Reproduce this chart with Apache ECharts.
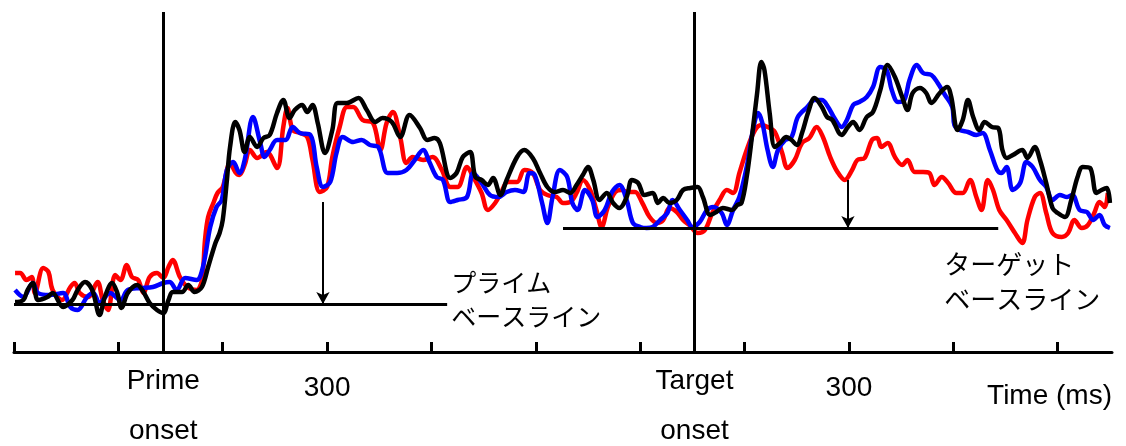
<!DOCTYPE html>
<html>
<head>
<meta charset="utf-8">
<title>Prime / Target baseline</title>
<script src="https://cdn.jsdelivr.net/npm/echarts@6/dist/echarts.min.js"></script>
<style>
  html, body { margin: 0; padding: 0; background: #fff; }
  #my_chart { width: 1126px; height: 446px; }
</style>
</head>
<body>
<div id="my_chart"></div>
<script>
  // time (ms) , amplitude pairs
  var redTrace = [
    [1,79],[6,79],[12,72],[17,75],[20,59],[28,84],[33,80],[37,62],[46,52],[54,65],[58,69],[63,59],[71,55],[80,70],
    [85,52],[90,42],[97,77],[102,72],[108,87],[113,75],[119,72],[124,59],[130,75],[137,79],[143,74],[148,85],[152,92],
    [159,75],[166,65],[175,62],[180,72],[183,112],[186,135],[191,149],[195,159],[200,165],[207,189],[212,180],[216,177],
    [221,187],[226,202],[233,194],[242,200],[252,184],[258,225],[262,244],[267,222],[274,219],[281,215],[286,192],
    [293,160],[300,165],[305,195],[312,225],[319,245],[325,245],[334,232],[344,229],[351,202],[357,229],[363,240],
    [370,215],[376,189],[382,195],[392,192],[401,195],[410,182],[418,165],[425,165],[434,185],[440,175],[448,159],
    [454,142],[461,149],[467,160],[473,170],[482,170],[489,182],[497,179],[504,162],[511,157],[520,155],[526,149],
    [533,150],[539,159],[545,172],[552,162],[558,142],[563,125],[569,145],[576,160],[582,162],[588,160],[595,160],
    [602,149],[609,135],[616,129],[622,132],[628,144],[635,140],[641,132],[648,126],[655,119],[662,122],[669,139],
    [676,152],[683,162],[689,159],[695,179],[702,202],[710,222],[716,227],[722,225],[729,220],[736,199],[741,184],
    [748,192],[755,209],[762,214],[769,225],[775,215],[782,195],[789,180],[796,172],[803,182],[808,192],[815,194],
    [822,212],[827,214],[831,205],[837,209],[844,195],[851,187],[856,192],[863,180],[871,180],[877,179],[882,167],
    [889,175],[895,169],[903,159],[909,159],[916,172],[922,155],[927,142],[933,172],[938,162],[944,142],[951,132],
    [959,119],[966,109],[971,132],[978,155],[983,159],[989,139],[995,119],[1004,115],[1010,119],[1016,132],[1023,124],
    [1029,127],[1035,139],[1040,150],[1045,145],[1048,159]
  ];
  var blueTrace = [
    [1,62],[9,55],[18,69],[23,59],[34,57],[47,59],[54,45],[61,42],[70,55],[76,59],[82,49],[92,59],[102,52],[109,62],
    [121,64],[133,65],[143,69],[149,70],[156,62],[164,74],[175,72],[181,85],[188,125],[194,145],[199,152],[204,182],
    [210,190],[216,179],[221,192],[229,235],[236,209],[240,195],[245,202],[252,212],[260,212],[267,225],[274,219],
    [284,217],[290,185],[296,165],[303,170],[309,199],[315,215],[325,210],[333,212],[341,207],[349,205],[358,179],
    [367,179],[376,182],[384,192],[392,202],[398,190],[405,175],[411,172],[418,150],[425,152],[434,155],[440,179],
    [448,169],[456,157],[464,155],[472,160],[480,162],[488,160],[494,179],[499,177],[506,149],[511,129],[516,155],
    [523,182],[530,175],[535,149],[540,142],[547,162],[554,152],[559,135],[566,142],[573,160],[580,167],[587,152],
    [593,129],[600,125],[606,124],[612,125],[619,132],[626,139],[631,152],[638,142],[645,132],[650,125],[657,130],
    [664,142],[670,145],[678,139],[683,127],[689,142],[695,155],[702,185],[708,222],[713,239],[717,229],[722,202],
    [727,185],[732,202],[739,212],[745,215],[751,235],[760,245],[767,252],[774,252],[780,245],[786,234],[793,225],
    [798,232],[804,247],[810,250],[817,255],[823,265],[830,285],[836,282],[841,262],[847,250],[853,252],[858,272],
    [865,287],[871,279],[879,277],[885,269],[892,257],[899,245],[901,227],[906,222],[914,220],[922,217],[928,219],
    [935,202],[942,182],[946,179],[951,185],[957,162],[964,169],[970,190],[976,185],[983,172],[989,165],[995,152],
    [1002,157],[1009,155],[1014,157],[1021,142],[1028,140],[1034,132],[1040,137],[1045,127],[1050,124]
  ];
  var blackTrace = [
    [1,50],[9,52],[13,62],[18,69],[23,52],[32,55],[37,59],[47,45],[56,52],[61,62],[68,70],[75,62],[82,37],[87,55],
    [94,69],[99,59],[103,44],[109,59],[118,67],[124,60],[130,49],[137,42],[143,39],[148,52],[152,60],[161,60],[167,67],
    [173,60],[180,65],[186,85],[193,109],[197,119],[200,132],[204,172],[207,205],[212,230],[216,222],[221,200],
    [226,215],[233,205],[239,214],[245,217],[252,239],[258,252],[264,234],[269,242],[276,247],[281,240],[286,247],
    [291,229],[298,199],[305,222],[310,249],[319,249],[330,254],[338,242],[346,230],[353,234],[362,230],[370,215],
    [379,237],[389,224],[396,212],[403,214],[408,209],[418,174],[424,179],[430,195],[437,200],[442,175],[448,172],
    [454,167],[459,174],[466,157],[472,172],[482,195],[489,202],[497,194],[504,179],[511,165],[518,160],[526,162],
    [533,159],[539,167],[545,177],[550,185],[555,172],[561,152],[568,159],[574,149],[580,144],[587,155],[592,172],
    [598,169],[604,157],[612,159],[617,149],[622,154],[628,149],[635,152],[641,162],[648,164],[655,165],[660,155],
    [667,137],[673,140],[679,144],[688,142],[693,147],[697,149],[702,175],[707,215],[712,259],[716,290],[719,282],
    [724,239],[729,205],[734,209],[740,215],[745,212],[750,207],[755,219],[761,240],[767,254],[774,245],[779,235],
    [784,232],[793,217],[799,225],[804,230],[810,222],[817,235],[823,240],[830,262],[837,287],[844,275],[851,255],
    [856,242],[861,259],[868,264],[874,259],[879,249],[887,259],[894,265],[898,255],[904,222],[909,232],[914,252],
    [919,235],[925,222],[930,230],[937,225],[943,224],[947,202],[951,194],[957,197],[966,202],[971,194],[978,205],
    [983,192],[989,169],[995,144],[1000,139],[1007,135],[1013,152],[1019,175],[1024,185],[1031,184],[1037,159],
    [1042,162],[1047,164],[1050,149]
  ];

  var tickStep = 100, tickLast = 1000;      // ticks every 100 ms, 0..1000
  var labelValues = [300, 800];             // ticks that carry a number
  var labelText = '300';                    // both read "300" (ms after each onset)
  var timeMax = 1052;                       // axis line runs a bit past the last tick
  var primeOnset = 143, targetOnset = 652;
  var primeBase = { from: 0, to: 415, level: 48 };
  var targetBase = { from: 526, to: 943, level: 124 };
  var primeArrow = { t: 296, top: 150 };
  var targetArrow = { t: 799, top: 172 };

  var latin = 'Liberation Sans, Arial, sans-serif';
  var cjk = '"Noto Sans CJK JP", sans-serif';

  var my_chart = echarts.init(document.getElementById('my_chart'));

  var solid = { color: '#000', width: 3, type: 'solid' };
  var thin = { color: '#000', width: 2, type: 'solid' };
  var onsetLabel = {
    show: true, position: 'start', distance: 4,
    fontFamily: latin, fontSize: 28, color: '#000', lineHeight: 50
  };

  // plot width for 0..timeMax is 1098px, so the tick axis (0..tickLast) ends earlier
  var plotW = 1126 - 14 - 14;
  var tickRight = 14 + plotW * (1 - tickLast / timeMax);

  my_chart.setOption({
    animation: false,
    grid: [
      { left: 14, right: 14, top: 12, bottom: 94 },
      { left: 14, right: tickRight, top: 12, bottom: 94 }
    ],
    xAxis: [{
      type: 'value', min: 0, max: timeMax, show: false
    }, {
      gridIndex: 1, type: 'value', min: 0, max: tickLast, interval: tickStep,
      axisLine: { show: false },
      axisTick: { inside: true, length: 10, lineStyle: { color: '#000', width: 3 } },
      axisLabel: {
        margin: 22, color: '#000', fontFamily: latin, fontSize: 28,
        formatter: function (v) { return labelValues.indexOf(v) >= 0 ? labelText : ''; }
      },
      splitLine: { show: false }
    }],
    yAxis: [
      { type: 'value', min: 0, max: 340, show: false },
      { gridIndex: 1, type: 'value', min: 0, max: 340, show: false }
    ],
    graphic: [{
      type: 'text', right: 14, top: 382,
      style: { text: 'Time (ms)', font: '28px ' + latin, fill: '#000' }
    }],
    series: [{
      name: 'red', type: 'line', data: redTrace, showSymbol: false, smooth: 0.35,
      lineStyle: { color: '#ff0000', width: 4.5 }, itemStyle: { color: '#ff0000' }
    }, {
      name: 'blue', type: 'line', data: blueTrace, showSymbol: false, smooth: 0.35,
      lineStyle: { color: '#0000ff', width: 4.5 }, itemStyle: { color: '#0000ff' }
    }, {
      name: 'black', type: 'line', data: blackTrace, showSymbol: false, smooth: 0.35, clip: false,
      lineStyle: { color: '#000', width: 4.5 }, itemStyle: { color: '#000' },
      markLine: {
        silent: true, symbol: ['none', 'none'], animation: false,
        label: { show: false },
        data: [
          // time axis line
          [{ coord: [0, 0], lineStyle: { color: '#000', width: 3, type: 'solid', cap: 'round' } }, { coord: [timeMax, 0] }],
          { xAxis: primeOnset, lineStyle: solid, label: Object.assign({ formatter: 'Prime\nonset' }, onsetLabel) },
          { xAxis: targetOnset, lineStyle: solid, label: Object.assign({ formatter: 'Target\nonset' }, onsetLabel) },
          [{ coord: [primeBase.from, primeBase.level], lineStyle: solid }, { coord: [primeBase.to, primeBase.level] }],
          [{ coord: [targetBase.from, targetBase.level], lineStyle: solid }, { coord: [targetBase.to, targetBase.level] }],
          [{ coord: [primeArrow.t, primeArrow.top], lineStyle: thin, symbol: 'none' },
           { coord: [primeArrow.t, primeBase.level], symbol: 'arrow', symbolSize: [10, 12] }],
          [{ coord: [targetArrow.t, targetArrow.top], lineStyle: thin, symbol: 'none' },
           { coord: [targetArrow.t, targetBase.level], symbol: 'arrow', symbolSize: [10, 12] }]
        ]
      },
      markPoint: {
        silent: true, symbol: 'circle', symbolSize: 0, animation: false,
        data: [{
          coord: [primeBase.to, primeBase.level],
          label: { show: true, position: 'right', distance: 4, offset: [0, -5], formatter: 'プライム\nベースライン',
                   fontFamily: cjk, fontSize: 25, lineHeight: 34, color: '#000', align: 'left' }
        }, {
          coord: [targetBase.to, targetBase.level],
          label: { show: true, position: 'right', distance: 0, offset: [-54, 54], formatter: 'ターゲット\nベースライン',
                   fontFamily: cjk, fontSize: 26, lineHeight: 35, color: '#000', align: 'left' }
        }]
      }
    }]
  });
</script>
</body>
</html>
